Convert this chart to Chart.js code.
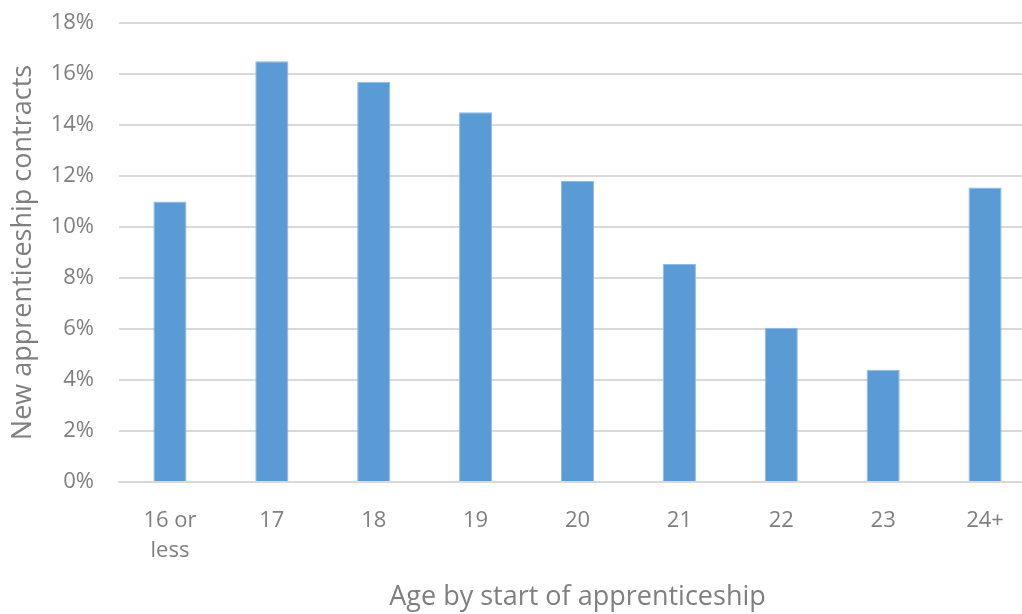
<!DOCTYPE html>
<html lang="en">
<head>
  <meta charset="UTF-8">
  <title>New apprenticeship contracts by age</title>
  <script src="https://cdn.jsdelivr.net/npm/chart.js"></script>
  <style>
    html, body {
      margin: 0;
      padding: 0;
      background: #ffffff;
      overflow: hidden;
    }
    .wrap {
      position: relative;
      width: 1036px;
      height: 614px;
    }
  </style>
</head>
<body>
  <div class="wrap">
    <canvas id="ageChart"></canvas>
  </div>
  <script>
    const ageGroups = [['16 or', 'less'], '17', '18', '19', '20', '21', '22', '23', '24+'];
    const shareOfContracts = [11.0, 16.5, 15.7, 14.5, 11.8, 8.55, 6.05, 4.4, 11.55];

    const greyText = '#7f7f7f';
    const fontFamily = "'Open Sans', 'Noto Sans', sans-serif";

    new Chart(document.getElementById('ageChart'), {
      type: 'bar',
      data: {
        labels: ageGroups,
        datasets: [{
          label: 'New apprenticeship contracts',
          data: shareOfContracts,
          backgroundColor: '#5b9bd5',
          borderColor: '#8dbbe4',
          borderWidth: 1,
          barPercentage: 0.325,
          categoryPercentage: 1
        }]
      },
      options: {
        responsive: true,
        maintainAspectRatio: false,
        animation: false,
        layout: { padding: { top: 23, right: 0, bottom: 0, left: 0 } },
        plugins: {
          legend: { display: false },
          tooltip: { enabled: false }
        },
        scales: {
          x: {
            grid: { display: false, drawTicks: false },
            border: { display: true, color: '#d9d9d9', width: 2 },
            ticks: {
              color: greyText,
              font: { family: fontFamily, size: 22, lineHeight: 1.36 },
              padding: 24,
              maxRotation: 0
            },
            title: {
              display: true,
              text: 'Age by start of apprenticeship',
              color: greyText,
              font: { family: fontFamily, size: 27 },
              padding: 0
            },
            afterFit: (scale) => {
              scale.height = 132;
              scale.paddingLeft = 0;
              scale.paddingRight = 0;
            }
          },
          y: {
            min: 0,
            max: 18,
            grid: { color: '#d9d9d9', lineWidth: 2, drawTicks: false },
            border: { display: false },
            ticks: {
              stepSize: 2,
              color: greyText,
              font: { family: fontFamily, size: 22 },
              padding: 25,
              callback: (v) => v + '%'
            },
            title: {
              display: true,
              text: 'New apprenticeship contracts',
              color: greyText,
              font: { family: fontFamily, size: 27 },
              padding: { top: 7, bottom: 10 }
            },
            afterFit: (scale) => {
              scale.width = 119;
              scale.paddingTop = 0;
              scale.paddingBottom = 0;
            }
          }
        }
      }
    });
  </script>
</body>
</html>
